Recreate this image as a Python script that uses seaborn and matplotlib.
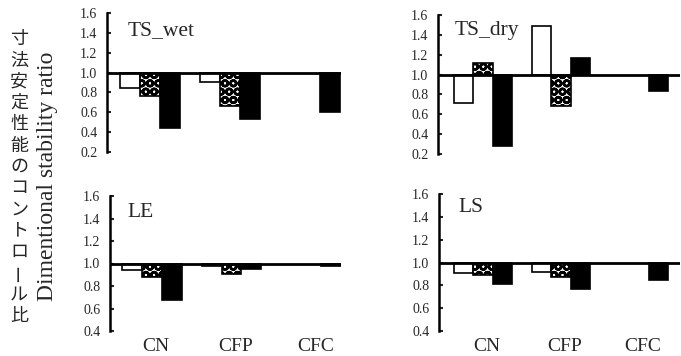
import matplotlib
matplotlib.use("Agg")
import matplotlib.pyplot as plt
import seaborn as sns
import pandas as pd

sns.set_theme(style="white")
plt.rcParams["font.family"] = ["Liberation Serif", "DejaVu Serif"]
plt.rcParams["hatch.linewidth"] = 1.8

# Categories and series
groups = ["CN", "CFP", "CFC"]
series = ["S1", "S2", "S3"]

# Dimensional stability ratio (relative to control = 1.0)
ts_wet_s1 = [0.84, 0.90]
ts_wet_s2 = [0.76, 0.66]
ts_wet_s3 = [0.44, 0.53, 0.60]

ts_dry_s1 = [0.71, 1.49]
ts_dry_s2 = [1.12, 0.68]
ts_dry_s3 = [0.28, 1.17, 0.83]

le_s1 = [0.94, 0.98]
le_s2 = [0.88, 0.905]
le_s3 = [0.68, 0.955, 0.98]

ls_s1 = [0.91, 0.915]
ls_s2 = [0.89, 0.87]
ls_s3 = [0.815, 0.77, 0.845]

panel_titles = ["TS_wet", "TS_dry", "LE", "LS"]
yticks_top = [0.2, 0.4, 0.6, 0.8, 1.0, 1.2, 1.4, 1.6]
yticks_bottom = [0.4, 0.6, 0.8, 1.0, 1.2, 1.4, 1.6]

ylabel_jp = "寸法安定性能のコントロール比"
ylabel_en = "Dimentional stability ratio"

W, H = 681, 356
fig = plt.figure(figsize=(W / 100, H / 100), dpi=100)


def long_frame(s1, s2, s3):
    rows = []
    for name, vals in zip(series, [s1, s2, s3]):
        for g, v in zip(groups, vals):
            rows.append({"group": g, "series": name, "ratio": v})
    df = pd.DataFrame(rows)
    df["delta"] = df["ratio"] - 1.0
    return df


def px_axes(left, right, top, bottom):
    return fig.add_axes([left / W, 1 - bottom / H, (right - left) / W, (bottom - top) / H])


panels = [
    # (data, pixel box, xlim, ylim, yticks, title pos, show xlabels)
    (long_frame(ts_wet_s1, ts_wet_s2, ts_wet_s3), (107, 341, 13, 152), (-0.54, 2.39), (0.2, 1.6), yticks_top, (0.09, 0.842), False),
    (long_frame(ts_dry_s1, ts_dry_s2, ts_dry_s3), (438, 680, 15, 154), (-0.577, 2.526), (0.2, 1.6), yticks_top, (0.07, 0.856), False),
    (long_frame(le_s1, le_s2, le_s3), (110, 341, 196, 331), (-0.52, 2.37), (0.4, 1.6), yticks_bottom, (0.074, 0.847), True),
    (long_frame(ls_s1, ls_s2, ls_s3), (439, 680, 194, 331), (-0.565, 2.526), (0.4, 1.6), yticks_bottom, (0.079, 0.872), True),
]

for (df, box, xlim, ylim, yt, tpos, show_x), title in zip(panels, panel_titles):
    ax = px_axes(*box)
    sns.barplot(
        data=df, x="group", y="delta", hue="series",
        order=groups, hue_order=series,
        palette=["white", "white", "black"],
        width=0.75, bottom=1.0, edgecolor="black", linewidth=1.2,
        saturation=1, legend=False, errorbar=None, ax=ax,
    )
    for patch in ax.containers[1]:
        patch.set_hatch("OO")
    ax.axhline(1.0, color="black", lw=2.0, zorder=5)
    ax.set_xlim(*xlim)
    ax.set_ylim(*ylim)
    ax.set_yticks(yt)
    ax.set_yticklabels([f"{v:.1f}" for v in yt], fontsize=10)
    ax.tick_params(axis="y", direction="in", length=3, width=1.5, pad=7, left=True)
    ax.tick_params(axis="x", length=0, pad=5)
    if show_x:
        ax.set_xticks([i + 0.05 for i in range(len(groups))])
        ax.set_xticklabels(groups, fontsize=14)
    else:
        ax.set_xticklabels([])
    ax.set_xlabel("")
    ax.set_ylabel("")
    for side in ["top", "right", "bottom"]:
        ax.spines[side].set_visible(False)
    ax.spines["left"].set_linewidth(1.8)
    ax.spines["left"].set_color("black")
    ax.set_facecolor("none")
    ax.text(tpos[0], tpos[1], title, transform=ax.transAxes, fontsize=15.5,
            ha="left", va="baseline")

# Vertical Japanese axis label, one character per line
pitch = 21.3
for i, ch in enumerate(ylabel_jp):
    rot = 90 if ch == "ー" else 0
    fig.text(19 / W, 1 - (39 + i * pitch) / H, ch, rotation=rot,
             ha="center", va="center", fontsize=13,
             family=["Noto Sans CJK JP", "DejaVu Sans"])

fig.text(48 / W, 1 - 176.5 / H, ylabel_en, rotation=90, ha="center", va="center",
         fontsize=17)

fig.savefig("out.png", dpi=100)
